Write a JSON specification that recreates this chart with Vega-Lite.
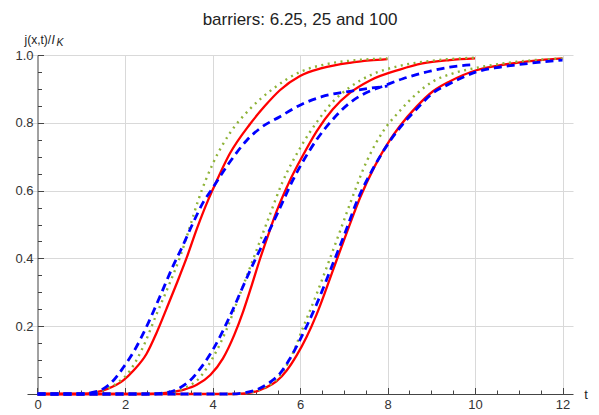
{
  "$schema": "https://vega.github.io/schema/vega-lite/v6.json",
  "width": 546,
  "height": 339,
  "autosize": {"type": "none"},
  "padding": {"left": 27, "top": 55, "right": 26, "bottom": 21},
  "title": {"text": "barriers: 6.25, 25 and 100", "fontSize": 17, "font": "Liberation Sans", "fontWeight": "normal", "color": "#222222", "offset": 4, "anchor": "middle"},
  "datasets": {
    "curves": [
      {"barrier": "6.25", "model": "red", "t": 0, "v": 0},
      {"barrier": "6.25", "model": "red", "t": 1, "v": 0},
      {"barrier": "6.25", "model": "red", "t": 1.3, "v": 0.004},
      {"barrier": "6.25", "model": "red", "t": 1.6, "v": 0.015},
      {"barrier": "6.25", "model": "red", "t": 1.96, "v": 0.04},
      {"barrier": "6.25", "model": "red", "t": 2.2, "v": 0.07},
      {"barrier": "6.25", "model": "red", "t": 2.49, "v": 0.118},
      {"barrier": "6.25", "model": "red", "t": 2.72, "v": 0.18},
      {"barrier": "6.25", "model": "red", "t": 2.95, "v": 0.252},
      {"barrier": "6.25", "model": "red", "t": 3.2, "v": 0.332},
      {"barrier": "6.25", "model": "red", "t": 3.41, "v": 0.402},
      {"barrier": "6.25", "model": "red", "t": 3.65, "v": 0.49},
      {"barrier": "6.25", "model": "red", "t": 3.9, "v": 0.572},
      {"barrier": "6.25", "model": "red", "t": 4.02, "v": 0.607},
      {"barrier": "6.25", "model": "red", "t": 4.4, "v": 0.71},
      {"barrier": "6.25", "model": "red", "t": 4.85, "v": 0.795},
      {"barrier": "6.25", "model": "red", "t": 5.2, "v": 0.85},
      {"barrier": "6.25", "model": "red", "t": 5.54, "v": 0.896},
      {"barrier": "6.25", "model": "red", "t": 6.0, "v": 0.938},
      {"barrier": "6.25", "model": "red", "t": 6.5, "v": 0.961},
      {"barrier": "6.25", "model": "red", "t": 7.14, "v": 0.977},
      {"barrier": "6.25", "model": "red", "t": 7.6, "v": 0.984},
      {"barrier": "6.25", "model": "red", "t": 8.0, "v": 0.988},

      {"barrier": "6.25", "model": "green", "t": 0, "v": 0},
      {"barrier": "6.25", "model": "green", "t": 1, "v": 0},
      {"barrier": "6.25", "model": "green", "t": 1.3, "v": 0.004},
      {"barrier": "6.25", "model": "green", "t": 1.6, "v": 0.016},
      {"barrier": "6.25", "model": "green", "t": 1.85, "v": 0.035},
      {"barrier": "6.25", "model": "green", "t": 2.11, "v": 0.068},
      {"barrier": "6.25", "model": "green", "t": 2.4, "v": 0.135},
      {"barrier": "6.25", "model": "green", "t": 2.72, "v": 0.235},
      {"barrier": "6.25", "model": "green", "t": 3.0, "v": 0.32},
      {"barrier": "6.25", "model": "green", "t": 3.26, "v": 0.405},
      {"barrier": "6.25", "model": "green", "t": 3.5, "v": 0.5},
      {"barrier": "6.25", "model": "green", "t": 3.67, "v": 0.57},
      {"barrier": "6.25", "model": "green", "t": 4.02, "v": 0.683},
      {"barrier": "6.25", "model": "green", "t": 4.4, "v": 0.77},
      {"barrier": "6.25", "model": "green", "t": 4.85, "v": 0.84},
      {"barrier": "6.25", "model": "green", "t": 5.38, "v": 0.9},
      {"barrier": "6.25", "model": "green", "t": 6.0, "v": 0.95},
      {"barrier": "6.25", "model": "green", "t": 6.6, "v": 0.973},
      {"barrier": "6.25", "model": "green", "t": 7.3, "v": 0.985},
      {"barrier": "6.25", "model": "green", "t": 8.0, "v": 0.99},

      {"barrier": "6.25", "model": "blue", "t": 0, "v": 0},
      {"barrier": "6.25", "model": "blue", "t": 1, "v": 0},
      {"barrier": "6.25", "model": "blue", "t": 1.2, "v": 0.003},
      {"barrier": "6.25", "model": "blue", "t": 1.5, "v": 0.015},
      {"barrier": "6.25", "model": "blue", "t": 1.75, "v": 0.042},
      {"barrier": "6.25", "model": "blue", "t": 1.96, "v": 0.078},
      {"barrier": "6.25", "model": "blue", "t": 2.2, "v": 0.125},
      {"barrier": "6.25", "model": "blue", "t": 2.49, "v": 0.198},
      {"barrier": "6.25", "model": "blue", "t": 2.8, "v": 0.288},
      {"barrier": "6.25", "model": "blue", "t": 3.1, "v": 0.378},
      {"barrier": "6.25", "model": "blue", "t": 3.33, "v": 0.44},
      {"barrier": "6.25", "model": "blue", "t": 3.55, "v": 0.503},
      {"barrier": "6.25", "model": "blue", "t": 3.79, "v": 0.566},
      {"barrier": "6.25", "model": "blue", "t": 4.0, "v": 0.607},
      {"barrier": "6.25", "model": "blue", "t": 4.4, "v": 0.685},
      {"barrier": "6.25", "model": "blue", "t": 4.78, "v": 0.748},
      {"barrier": "6.25", "model": "blue", "t": 5.1, "v": 0.785},
      {"barrier": "6.25", "model": "blue", "t": 5.54, "v": 0.818},
      {"barrier": "6.25", "model": "blue", "t": 6.0, "v": 0.852},
      {"barrier": "6.25", "model": "blue", "t": 6.5, "v": 0.877},
      {"barrier": "6.25", "model": "blue", "t": 7.14, "v": 0.893},
      {"barrier": "6.25", "model": "blue", "t": 7.6, "v": 0.902},
      {"barrier": "6.25", "model": "blue", "t": 8.0, "v": 0.908},

      {"barrier": "25", "model": "red", "t": 0, "v": 0},
      {"barrier": "25", "model": "red", "t": 2.5, "v": 0},
      {"barrier": "25", "model": "red", "t": 3.03, "v": 0.005},
      {"barrier": "25", "model": "red", "t": 3.35, "v": 0.013},
      {"barrier": "25", "model": "red", "t": 3.64, "v": 0.027},
      {"barrier": "25", "model": "red", "t": 3.95, "v": 0.056},
      {"barrier": "25", "model": "red", "t": 4.24, "v": 0.105},
      {"barrier": "25", "model": "red", "t": 4.5, "v": 0.175},
      {"barrier": "25", "model": "red", "t": 4.7, "v": 0.243},
      {"barrier": "25", "model": "red", "t": 4.9, "v": 0.322},
      {"barrier": "25", "model": "red", "t": 5.08, "v": 0.396},
      {"barrier": "25", "model": "red", "t": 5.27, "v": 0.468},
      {"barrier": "25", "model": "red", "t": 5.46, "v": 0.537},
      {"barrier": "25", "model": "red", "t": 5.77, "v": 0.63},
      {"barrier": "25", "model": "red", "t": 6.05, "v": 0.7},
      {"barrier": "25", "model": "red", "t": 6.38, "v": 0.775},
      {"barrier": "25", "model": "red", "t": 6.75, "v": 0.84},
      {"barrier": "25", "model": "red", "t": 7.14, "v": 0.888},
      {"barrier": "25", "model": "red", "t": 7.6, "v": 0.925},
      {"barrier": "25", "model": "red", "t": 8.28, "v": 0.957},
      {"barrier": "25", "model": "red", "t": 8.8, "v": 0.975},
      {"barrier": "25", "model": "red", "t": 9.42, "v": 0.985},
      {"barrier": "25", "model": "red", "t": 10.0, "v": 0.99},

      {"barrier": "25", "model": "green", "t": 0, "v": 0},
      {"barrier": "25", "model": "green", "t": 2.5, "v": 0},
      {"barrier": "25", "model": "green", "t": 3.0, "v": 0.005},
      {"barrier": "25", "model": "green", "t": 3.4, "v": 0.02},
      {"barrier": "25", "model": "green", "t": 3.7, "v": 0.047},
      {"barrier": "25", "model": "green", "t": 4.0, "v": 0.105},
      {"barrier": "25", "model": "green", "t": 4.32, "v": 0.19},
      {"barrier": "25", "model": "green", "t": 4.6, "v": 0.285},
      {"barrier": "25", "model": "green", "t": 4.98, "v": 0.415},
      {"barrier": "25", "model": "green", "t": 5.3, "v": 0.525},
      {"barrier": "25", "model": "green", "t": 5.6, "v": 0.625},
      {"barrier": "25", "model": "green", "t": 6.0, "v": 0.725},
      {"barrier": "25", "model": "green", "t": 6.4, "v": 0.805},
      {"barrier": "25", "model": "green", "t": 6.75, "v": 0.862},
      {"barrier": "25", "model": "green", "t": 7.14, "v": 0.905},
      {"barrier": "25", "model": "green", "t": 7.6, "v": 0.94},
      {"barrier": "25", "model": "green", "t": 8.28, "v": 0.968},
      {"barrier": "25", "model": "green", "t": 9.0, "v": 0.983},
      {"barrier": "25", "model": "green", "t": 10.0, "v": 0.992},

      {"barrier": "25", "model": "blue", "t": 0, "v": 0},
      {"barrier": "25", "model": "blue", "t": 2.5, "v": 0},
      {"barrier": "25", "model": "blue", "t": 3.03, "v": 0.006},
      {"barrier": "25", "model": "blue", "t": 3.25, "v": 0.018},
      {"barrier": "25", "model": "blue", "t": 3.48, "v": 0.039},
      {"barrier": "25", "model": "blue", "t": 3.75, "v": 0.08},
      {"barrier": "25", "model": "blue", "t": 4.02, "v": 0.133},
      {"barrier": "25", "model": "blue", "t": 4.4, "v": 0.23},
      {"barrier": "25", "model": "blue", "t": 4.7, "v": 0.318},
      {"barrier": "25", "model": "blue", "t": 4.97, "v": 0.395},
      {"barrier": "25", "model": "blue", "t": 5.16, "v": 0.445},
      {"barrier": "25", "model": "blue", "t": 5.5, "v": 0.537},
      {"barrier": "25", "model": "blue", "t": 5.84, "v": 0.632},
      {"barrier": "25", "model": "blue", "t": 6.1, "v": 0.693},
      {"barrier": "25", "model": "blue", "t": 6.38, "v": 0.75},
      {"barrier": "25", "model": "blue", "t": 6.75, "v": 0.81},
      {"barrier": "25", "model": "blue", "t": 7.14, "v": 0.859},
      {"barrier": "25", "model": "blue", "t": 7.5, "v": 0.888},
      {"barrier": "25", "model": "blue", "t": 7.9, "v": 0.908},
      {"barrier": "25", "model": "blue", "t": 8.35, "v": 0.93},
      {"barrier": "25", "model": "blue", "t": 8.66, "v": 0.942},
      {"barrier": "25", "model": "blue", "t": 9.0, "v": 0.953},
      {"barrier": "25", "model": "blue", "t": 9.42, "v": 0.964},
      {"barrier": "25", "model": "blue", "t": 10.0, "v": 0.972},

      {"barrier": "100", "model": "red", "t": 0, "v": 0},
      {"barrier": "100", "model": "red", "t": 4.5, "v": 0},
      {"barrier": "100", "model": "red", "t": 5.01, "v": 0.008},
      {"barrier": "100", "model": "red", "t": 5.2, "v": 0.018},
      {"barrier": "100", "model": "red", "t": 5.46, "v": 0.037},
      {"barrier": "100", "model": "red", "t": 5.7, "v": 0.07},
      {"barrier": "100", "model": "red", "t": 5.92, "v": 0.113},
      {"barrier": "100", "model": "red", "t": 6.15, "v": 0.168},
      {"barrier": "100", "model": "red", "t": 6.38, "v": 0.235},
      {"barrier": "100", "model": "red", "t": 6.6, "v": 0.31},
      {"barrier": "100", "model": "red", "t": 6.84, "v": 0.396},
      {"barrier": "100", "model": "red", "t": 7.1, "v": 0.487},
      {"barrier": "100", "model": "red", "t": 7.37, "v": 0.578},
      {"barrier": "100", "model": "red", "t": 7.7, "v": 0.67},
      {"barrier": "100", "model": "red", "t": 8.05, "v": 0.748},
      {"barrier": "100", "model": "red", "t": 8.28, "v": 0.79},
      {"barrier": "100", "model": "red", "t": 8.66, "v": 0.847},
      {"barrier": "100", "model": "red", "t": 9.04, "v": 0.893},
      {"barrier": "100", "model": "red", "t": 9.42, "v": 0.922},
      {"barrier": "100", "model": "red", "t": 10.03, "v": 0.955},
      {"barrier": "100", "model": "red", "t": 10.5, "v": 0.968},
      {"barrier": "100", "model": "red", "t": 10.95, "v": 0.977},
      {"barrier": "100", "model": "red", "t": 11.5, "v": 0.985},
      {"barrier": "100", "model": "red", "t": 12.0, "v": 0.99},

      {"barrier": "100", "model": "green", "t": 0, "v": 0},
      {"barrier": "100", "model": "green", "t": 4.5, "v": 0},
      {"barrier": "100", "model": "green", "t": 4.9, "v": 0.006},
      {"barrier": "100", "model": "green", "t": 5.2, "v": 0.02},
      {"barrier": "100", "model": "green", "t": 5.5, "v": 0.047},
      {"barrier": "100", "model": "green", "t": 5.8, "v": 0.11},
      {"barrier": "100", "model": "green", "t": 6.07, "v": 0.196},
      {"barrier": "100", "model": "green", "t": 6.38, "v": 0.295},
      {"barrier": "100", "model": "green", "t": 6.68, "v": 0.398},
      {"barrier": "100", "model": "green", "t": 6.9, "v": 0.475},
      {"barrier": "100", "model": "green", "t": 7.14, "v": 0.56},
      {"barrier": "100", "model": "green", "t": 7.52, "v": 0.685},
      {"barrier": "100", "model": "green", "t": 7.9, "v": 0.775},
      {"barrier": "100", "model": "green", "t": 8.28, "v": 0.835},
      {"barrier": "100", "model": "green", "t": 8.66, "v": 0.885},
      {"barrier": "100", "model": "green", "t": 9.04, "v": 0.922},
      {"barrier": "100", "model": "green", "t": 9.5, "v": 0.946},
      {"barrier": "100", "model": "green", "t": 10.03, "v": 0.962},
      {"barrier": "100", "model": "green", "t": 10.95, "v": 0.98},
      {"barrier": "100", "model": "green", "t": 12.0, "v": 0.99},

      {"barrier": "100", "model": "blue", "t": 0, "v": 0},
      {"barrier": "100", "model": "blue", "t": 4.4, "v": 0},
      {"barrier": "100", "model": "blue", "t": 4.75, "v": 0.004},
      {"barrier": "100", "model": "blue", "t": 5.0, "v": 0.012},
      {"barrier": "100", "model": "blue", "t": 5.16, "v": 0.022},
      {"barrier": "100", "model": "blue", "t": 5.35, "v": 0.038},
      {"barrier": "100", "model": "blue", "t": 5.54, "v": 0.06},
      {"barrier": "100", "model": "blue", "t": 5.75, "v": 0.1},
      {"barrier": "100", "model": "blue", "t": 6.0, "v": 0.16},
      {"barrier": "100", "model": "blue", "t": 6.38, "v": 0.265},
      {"barrier": "100", "model": "blue", "t": 6.76, "v": 0.387},
      {"barrier": "100", "model": "blue", "t": 7.05, "v": 0.482},
      {"barrier": "100", "model": "blue", "t": 7.29, "v": 0.565},
      {"barrier": "100", "model": "blue", "t": 7.65, "v": 0.66},
      {"barrier": "100", "model": "blue", "t": 8.05, "v": 0.745},
      {"barrier": "100", "model": "blue", "t": 8.28, "v": 0.785},
      {"barrier": "100", "model": "blue", "t": 8.66, "v": 0.84},
      {"barrier": "100", "model": "blue", "t": 9.04, "v": 0.888},
      {"barrier": "100", "model": "blue", "t": 9.42, "v": 0.915},
      {"barrier": "100", "model": "blue", "t": 10.03, "v": 0.95},
      {"barrier": "100", "model": "blue", "t": 10.5, "v": 0.963},
      {"barrier": "100", "model": "blue", "t": 10.95, "v": 0.971},
      {"barrier": "100", "model": "blue", "t": 11.5, "v": 0.979},
      {"barrier": "100", "model": "blue", "t": 12.0, "v": 0.985}
    ]
  },
  "data": {"name": "curves"},
  "encoding": {
    "x": {
      "field": "t",
      "type": "quantitative",
      "scale": {"domain": [-0.24, 12.24], "nice": false, "zero": false},
      "axis": {
        "values": [0, 0.5, 1, 1.5, 2, 2.5, 3, 3.5, 4, 4.5, 5, 5.5, 6, 6.5, 7, 7.5, 8, 8.5, 9, 9.5, 10, 10.5, 11, 11.5, 12],
        "labelExpr": "datum.value % 2 === 0 ? format(datum.value, 'd') : ''",
        "tickSize": {"condition": {"test": "datum.value % 2 === 0", "value": -6.5}, "value": -4},
        "grid": true,
        "gridColor": "#d9d9d9",
        "gridOpacity": {"condition": {"test": "datum.value % 2 === 0 && datum.value > 0", "value": 1}, "value": 0},
        "domainColor": "#444444",
        "tickColor": "#444444",
        "labelPadding": 11,
        "labelFontSize": 13,
        "labelFont": "Liberation Sans",
        "labelColor": "#333333",
        "labelFlush": false,
        "labelOverlap": false,
        "title": "t",
        "titleX": 558.5,
        "titleY": 4,
        "titleAlign": "center",
        "titleBaseline": "alphabetic",
        "titleFontWeight": "normal",
        "titleFontSize": 13,
        "titleFont": "Liberation Sans",
        "titleColor": "#222222"
      }
    }
  },
  "layer": [
    {
      "transform": [{"filter": "datum.model === 'red'"}],
      "mark": {"type": "line", "color": "#ff0000", "strokeWidth": 2.3, "interpolate": "monotone"},
      "encoding": {
        "y": {
          "field": "v",
          "type": "quantitative",
          "scale": {"domain": [0, 1], "nice": false},
          "axis": {
            "orient": "left",
            "offset": -10.5,
            "values": [0, 0.05, 0.1, 0.15, 0.2, 0.25, 0.3, 0.35, 0.4, 0.45, 0.5, 0.55, 0.6, 0.65, 0.7, 0.75, 0.8, 0.85, 0.9, 0.95, 1],
            "labelExpr": "round(datum.value * 20) % 4 === 0 && datum.value > 0 ? format(datum.value, '.1f') : ''",
            "tickSize": {"condition": {"test": "round(datum.value * 20) % 4 === 0", "value": -6}, "value": -4},
            "grid": true,
            "gridColor": "#d9d9d9",
            "gridOpacity": {"condition": {"test": "round(datum.value * 20) % 4 === 0 && datum.value > 0", "value": 1}, "value": 0},
            "domainColor": "#444444",
            "tickColor": "#444444",
            "labelPadding": 10.5,
            "labelFontSize": 13,
            "labelFont": "Liberation Sans",
            "labelColor": "#333333",
            "labelFlush": false,
            "labelOverlap": false,
            "title": "j(x,t)/",
            "titleAngle": 0,
            "titleX": -13.5,
            "titleY": -12,
            "titleAlign": "left",
            "titleBaseline": "alphabetic",
            "titleFontWeight": "normal",
            "titleFontSize": 12,
            "titleFont": "Liberation Sans",
            "titleColor": "#222222"
          }
        },
        "detail": {"field": "barrier"}
      }
    },
    {
      "transform": [{"filter": "datum.model === 'green'"}],
      "mark": {"type": "line", "color": "#8fb339", "strokeWidth": 2.4, "strokeDash": [2, 4.5], "interpolate": "monotone"},
      "encoding": {
        "y": {
          "field": "v",
          "type": "quantitative",
          "scale": {"domain": [0, 1], "nice": false},
          "axis": {
            "orient": "left",
            "domain": false,
            "ticks": false,
            "labels": false,
            "grid": false,
            "title": "I",
            "titleAngle": 0,
            "titleX": 24,
            "titleY": -12,
            "titleAlign": "left",
            "titleBaseline": "alphabetic",
            "titleFontWeight": "normal",
            "titleFontStyle": "italic",
            "titleFontSize": 12,
            "titleFont": "Liberation Sans",
            "titleColor": "#222222"
          }
        },
        "detail": {"field": "barrier"}
      }
    },
    {
      "transform": [{"filter": "datum.model === 'blue'"}],
      "mark": {"type": "line", "color": "#0000ff", "strokeWidth": 2.8, "strokeDash": [8, 5], "interpolate": "monotone"},
      "encoding": {
        "y": {
          "field": "v",
          "type": "quantitative",
          "scale": {"domain": [0, 1], "nice": false},
          "axis": {
            "orient": "left",
            "domain": false,
            "ticks": false,
            "labels": false,
            "grid": false,
            "title": "K",
            "titleAngle": 0,
            "titleX": 29,
            "titleY": -9.5,
            "titleAlign": "left",
            "titleBaseline": "alphabetic",
            "titleFontWeight": "normal",
            "titleFontStyle": "italic",
            "titleFontSize": 10.5,
            "titleFont": "Liberation Sans",
            "titleColor": "#222222"
          }
        },
        "detail": {"field": "barrier"}
      }
    }
  ],
  "resolve": {"axis": {"y": "independent"}},
  "config": {"view": {"stroke": null}, "font": "Liberation Sans"}
}
